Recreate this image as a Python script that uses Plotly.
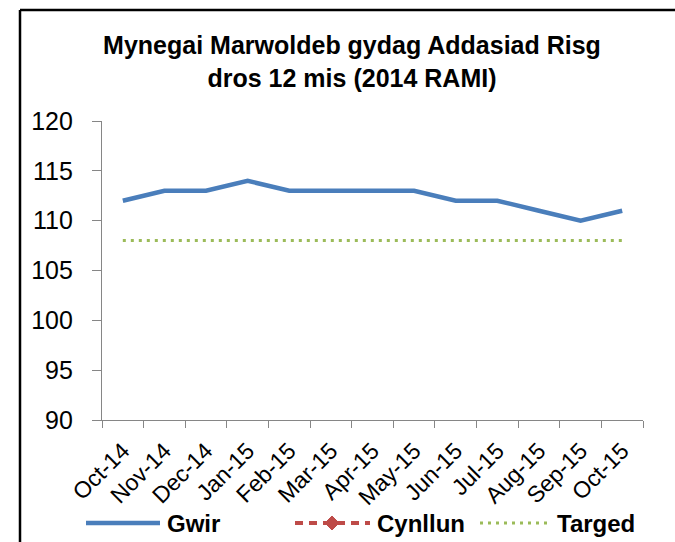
import plotly.graph_objects as go

# Data
misoedd = ["Oct-14", "Nov-14", "Dec-14", "Jan-15", "Feb-15", "Mar-15", "Apr-15",
           "May-15", "Jun-15", "Jul-15", "Aug-15", "Sep-15", "Oct-15"]
gwir = [112, 113, 113, 114, 113, 113, 113, 113, 112, 112, 111, 110, 111]
cynllun = [None] * 13
targed = [108] * 13

FONT = "Liberation Sans, Arial, sans-serif"
GRAY = "#868686"
BLUE = "#4A7EBB"
RED = "#BE4B48"
GREEN = "#9BBB59"

# plot area in pixels
L, R, T, B = 102, 643, 121, 420
W, H = 675, 542


def px(x):
    return (x - L) / (R - L)


def py(y):
    return (B - y) / (B - T)


fig = go.Figure()

fig.add_trace(go.Scatter(
    x=misoedd, y=gwir, name="Gwir", mode="lines",
    line=dict(color=BLUE, width=4.5),
))
fig.add_trace(go.Scatter(
    x=misoedd, y=cynllun, name="Cynllun", mode="lines+markers",
    line=dict(color=RED, width=4, dash="dash"),
    marker=dict(symbol="diamond", size=11, color=RED),
))
fig.add_trace(go.Scatter(
    x=misoedd, y=targed, name="Targed", mode="lines",
    line=dict(color=GREEN, width=3, dash="3px,5px"),
))

fig.update_layout(
    width=W, height=H,
    paper_bgcolor="white", plot_bgcolor="white",
    margin=dict(l=L, r=W - R, t=T, b=H - B, autoexpand=False),
    font=dict(family=FONT, color="black"),
    showlegend=False,
    title=dict(
        text="<b>Mynegai Marwoldeb gydag Addasiad Risg<br>dros 12 mis (2014 RAMI)</b>",
        x=352 / W, xanchor="center", xref="container",
        y=1 - 54 / H, yanchor="top", yref="container",
        font=dict(size=25, family=FONT, color="black"),
    ),
    xaxis=dict(
        type="category", showline=True, linecolor=GRAY, linewidth=1.3,
        ticks="outside", ticklen=7, tickcolor=GRAY, tickson="boundaries",
        tickangle=-45, tickfont=dict(size=23), ticklabelstandoff=7,
        showgrid=False, zeroline=False, automargin=False,
        range=[-0.5, 12.5],
    ),
    yaxis=dict(
        range=[90, 120], dtick=5, showline=True, linecolor=GRAY, linewidth=1.3,
        ticks="outside", ticklen=9, tickcolor=GRAY, ticklabelstandoff=14,
        tickfont=dict(size=25), showgrid=False, zeroline=False, automargin=False,
    ),
)

# hand-drawn legend (longer sample lines, like the Excel original)
ly = py(523)
legend_items = [
    ("Gwir", 86, 160, dict(color=BLUE, width=4.5)),
    ("Cynllun", 295, 370, dict(color=RED, width=4, dash="8px,6px")),
    ("Targed", 480, 550, dict(color=GREEN, width=3, dash="3px,5px")),
]
for name, x0, x1, line in legend_items:
    fig.add_shape(type="line", xref="paper", yref="paper",
                  x0=px(x0), x1=px(x1), y0=ly, y1=ly, line=line)
    fig.add_annotation(text="<b>%s</b>" % name, xref="paper", yref="paper",
                       x=px(x1 + 5), y=ly, xanchor="left", yanchor="middle",
                       showarrow=False, font=dict(size=24, family=FONT, color="black"))
# diamond marker on the Cynllun sample
cx, cy, d = 332, 523, 7
fig.add_shape(type="path", xref="paper", yref="paper",
              path="M %f %f L %f %f L %f %f L %f %f Z" % (
                  px(cx - d), py(cy), px(cx), py(cy - d), px(cx + d), py(cy), px(cx), py(cy + d)),
              fillcolor=RED, line=dict(color=RED, width=1))

# chart frame (left and top edges visible in the reference)
fig.add_shape(type="line", xref="paper", yref="paper",
              x0=px(20), x1=px(20), y0=py(H + 10), y1=py(10),
              line=dict(color="black", width=2.5))
fig.add_shape(type="line", xref="paper", yref="paper",
              x0=px(20), x1=px(W + 10), y0=py(10), y1=py(10),
              line=dict(color="black", width=2.5))

# page body has a default 8px margin; remove it so the figure sits at 0,0
fig.write_html("out.html", config={"displayModeBar": False},
               post_script="document.body.style.margin='0';")
